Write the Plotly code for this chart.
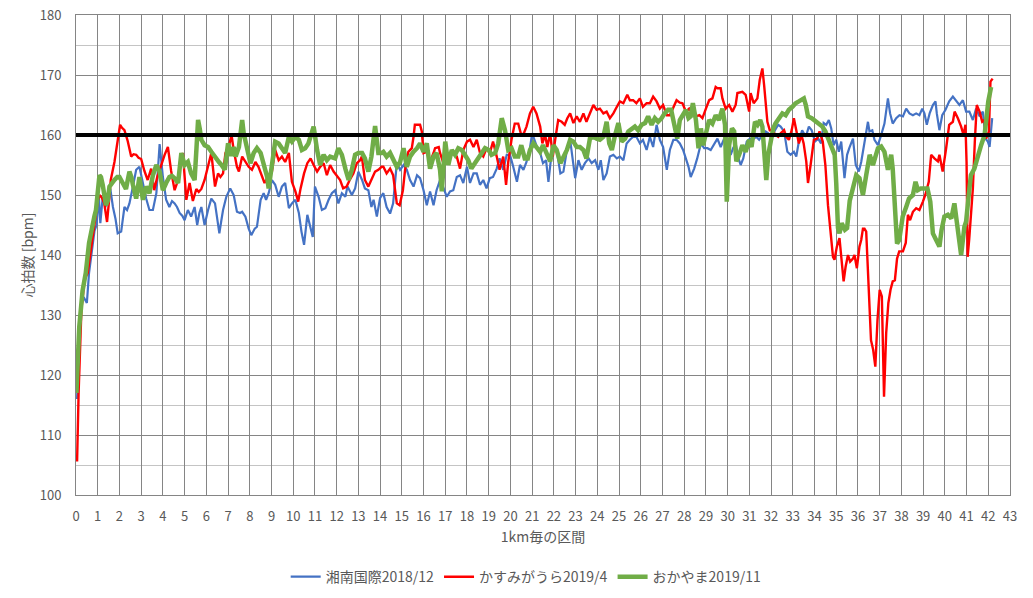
import plotly.graph_objects as go

# (km, bpm)
shonan = [
    (0.05, 116), (0.2, 131), (0.35, 133), (0.5, 132), (0.6, 137), (0.7, 139.7), (0.85, 144), (0.95, 145),
    (1.05, 150), (1.12, 145.3), (1.23, 149.7), (1.35, 148), (1.46, 149), (1.58, 151), (1.7, 148), (1.82, 146),
    (1.92, 143.6), (2.08, 143.9), (2.15, 146), (2.23, 148), (2.35, 147.5), (2.46, 148.6), (2.62, 151.4),
    (2.77, 154.2), (2.92, 154.7), (3.08, 152), (3.23, 149.4), (3.38, 147.5), (3.54, 147.5), (3.7, 150.3),
    (3.85, 158.5), (4.0, 153), (4.15, 149.2), (4.3, 148), (4.42, 149), (4.54, 148.6), (4.65, 148), (4.77, 147),
    (4.9, 146.5), (5.0, 145.8), (5.15, 147.5), (5.3, 146.4), (5.46, 148), (5.58, 145), (5.68, 147), (5.77, 148),
    (5.92, 145), (6.08, 147.5), (6.23, 149.4), (6.4, 148.6), (6.52, 146), (6.6, 143.6), (6.68, 145.5),
    (6.77, 147.5), (6.92, 149.7), (7.1, 151.1), (7.26, 150), (7.41, 147.2), (7.55, 147), (7.65, 147.2),
    (7.8, 146.4), (7.95, 144.4), (8.07, 143.3), (8.23, 144.4), (8.33, 144.7), (8.5, 149.2), (8.64, 150.3),
    (8.75, 149.2), (8.87, 150.3), (9.02, 152.5), (9.17, 151.7), (9.33, 149.7), (9.48, 151.4), (9.63, 152),
    (9.8, 147.8), (9.94, 148.6), (10.1, 149.2), (10.26, 147), (10.38, 143.9), (10.5, 141.7), (10.65, 146.7),
    (10.8, 144.7), (10.9, 143), (11.0, 151.4), (11.17, 149.7), (11.32, 147.5), (11.48, 147.8), (11.63, 149.2),
    (11.78, 150.3), (11.93, 150.8), (12.08, 148.6), (12.24, 150.3), (12.4, 149.7), (12.5, 151.4), (12.7, 150),
    (12.85, 151.1), (13.0, 153.9), (13.17, 152.5), (13.3, 151.1), (13.46, 150.8), (13.6, 148), (13.7, 149.2),
    (13.85, 146.4), (14.0, 149.5), (14.15, 150.3), (14.3, 148), (14.46, 146.9), (14.6, 148.6), (14.77, 155.3),
    (14.92, 154.2), (15.08, 155), (15.23, 154.2), (15.38, 152.5), (15.54, 151.4), (15.7, 153.3), (15.84, 152.8),
    (16.0, 150.8), (16.15, 148.3), (16.3, 150.6), (16.46, 148.3), (16.6, 150.8), (16.76, 152.5), (16.9, 151.4),
    (17.07, 149.7), (17.22, 150.6), (17.37, 150.8), (17.53, 153), (17.68, 153.3), (17.83, 152), (18.0, 154.7),
    (18.14, 152), (18.3, 153.6), (18.45, 153.6), (18.6, 151.7), (18.75, 152.5), (18.9, 151.1), (19.05, 152.8),
    (19.2, 153), (19.37, 154.4), (19.5, 156.1), (19.67, 154.2), (19.83, 156.7), (19.98, 156.7), (20.13, 154.7),
    (20.3, 152.2), (20.44, 155), (20.6, 154.2), (20.74, 155.5), (20.9, 157.8), (21.0, 160.3), (21.12, 158.9),
    (21.27, 157.5), (21.37, 157), (21.5, 155.3), (21.64, 155.8), (21.75, 152.2), (21.86, 155.8), (21.98, 158.3),
    (22.13, 157.5), (22.3, 153.6), (22.44, 153.9), (22.6, 157.5), (22.75, 159.2), (22.87, 155.8), (22.98, 152.8),
    (23.13, 155.8), (23.28, 154.2), (23.43, 155.3), (23.6, 156.1), (23.74, 155.3), (23.9, 155.8), (24.05, 154.2),
    (24.16, 155.8), (24.28, 152.5), (24.43, 153.6), (24.58, 156.4), (24.74, 156.7), (24.9, 156.1), (25.04, 156.4),
    (25.2, 155.8), (25.35, 158.6), (25.5, 159.2), (25.65, 159.7), (25.8, 159.7), (25.96, 158.6), (26.1, 159.2),
    (26.27, 157.5), (26.42, 159.7), (26.57, 158), (26.73, 161.7), (26.88, 159.2), (27.03, 158), (27.2, 154.2),
    (27.34, 157.5), (27.5, 159.2), (27.65, 159.2), (27.8, 158.6), (27.95, 157.5), (28.1, 155.8), (28.2, 154.7),
    (28.3, 153), (28.46, 154.4), (28.6, 156.1), (28.77, 158.6), (28.92, 157.8), (29.07, 157.8), (29.22, 157.5),
    (29.38, 158.6), (29.53, 159.4), (29.68, 158), (29.84, 159.4), (30.0, 157.8), (30.14, 156.7), (30.25, 157.8),
    (30.37, 158.6), (30.5, 156.1), (30.6, 155), (30.72, 156.1), (30.88, 158.9), (31.03, 159.4), (31.2, 159.4),
    (31.32, 159.7), (31.45, 159.2), (31.6, 160), (31.75, 160.6), (31.87, 160.3), (32.03, 159.4), (32.18, 160.8),
    (32.33, 161.7), (32.44, 161.4), (32.6, 160.6), (32.75, 157.2), (32.9, 156.7), (33.05, 157.2), (33.16, 156.4),
    (33.28, 158.9), (33.43, 160.8), (33.6, 159.7), (33.74, 161.4), (33.87, 160.8), (34.02, 158.9), (34.17, 159.4),
    (34.3, 158.6), (34.42, 162), (34.54, 161.7), (34.66, 162.5), (34.77, 161.1), (34.88, 158.3), (35.0, 159.2),
    (35.12, 157.2), (35.23, 158.9), (35.38, 152.8), (35.5, 156.7), (35.6, 157.8), (35.77, 159.4), (35.9, 155),
    (36.04, 153.9), (36.15, 155.5), (36.3, 158.9), (36.46, 162.2), (36.53, 160.6), (36.66, 160.8), (36.76, 159.2),
    (36.92, 158.3), (37.07, 160), (37.22, 161.9), (37.38, 166.1), (37.48, 163.6), (37.6, 161.9), (37.76, 162.8),
    (37.91, 163.3), (38.07, 163.1), (38.22, 164.4), (38.37, 163.6), (38.53, 163.3), (38.68, 163.6), (38.83, 163.3),
    (38.96, 164.4), (39.06, 163.6), (39.17, 161.7), (39.3, 163.6), (39.45, 165), (39.57, 165.6), (39.63, 163.6),
    (39.75, 160.8), (39.88, 163.3), (40.03, 164.2), (40.2, 165.6), (40.37, 166.4), (40.52, 165.6), (40.67, 165),
    (40.83, 165.8), (40.98, 163.9), (41.13, 163.9), (41.29, 162.5), (41.44, 164.4), (41.6, 163.1), (41.75, 163.9),
    (41.87, 159.4), (41.98, 158.9), (42.06, 158), (42.18, 162.8),
]

kasumigaura = [
    (0.05, 105.6), (0.12, 117), (0.25, 131), (0.4, 136), (0.54, 137), (0.7, 141), (0.85, 145), (1.0, 149),
    (1.08, 150), (1.2, 149.5), (1.3, 148.6), (1.43, 145.5), (1.52, 149), (1.6, 152.5), (1.77, 155.5), (1.92, 159),
    (2.03, 161.7), (2.12, 161.2), (2.23, 160.8), (2.38, 159), (2.54, 156.4), (2.65, 156.8), (2.77, 156.7),
    (2.88, 156.2), (3.0, 156), (3.15, 154), (3.3, 152.5), (3.46, 154.4), (3.6, 150.8), (3.74, 153), (3.92, 155),
    (4.08, 156.7), (4.23, 158), (4.38, 154), (4.54, 150.8), (4.7, 152.5), (4.8, 155), (4.92, 157), (5.08, 149.2),
    (5.23, 152), (5.38, 149), (5.54, 151), (5.65, 150.5), (5.77, 151), (5.92, 152.5), (6.08, 154.7), (6.23, 157),
    (6.4, 151.4), (6.54, 153.6), (6.65, 153), (6.77, 153.6), (6.88, 157), (7.03, 158), (7.16, 160), (7.26, 157.5),
    (7.41, 154.7), (7.5, 153.9), (7.65, 156.4), (7.8, 155.5), (7.95, 154.7), (8.1, 154.2), (8.26, 155.5),
    (8.4, 154.7), (8.56, 153.3), (8.68, 152), (8.84, 153), (9.02, 153.9), (9.17, 157.5), (9.33, 155.8),
    (9.48, 156.4), (9.63, 155.5), (9.8, 157), (9.94, 152.2), (10.1, 150.6), (10.23, 148.9), (10.34, 151.1),
    (10.5, 153.6), (10.65, 155.3), (10.8, 156.1), (10.94, 155), (11.1, 153.9), (11.24, 154.7), (11.4, 155.3),
    (11.55, 153.3), (11.7, 155), (11.86, 153.9), (12.0, 153.3), (12.16, 152.5), (12.3, 151.1), (12.46, 151.4),
    (12.6, 152.5), (12.77, 153.6), (12.93, 155.3), (13.08, 155.8), (13.16, 156.4), (13.3, 152.5), (13.46, 151.4),
    (13.6, 152.5), (13.77, 153.9), (13.92, 154.2), (14.07, 154.7), (14.15, 154.7), (14.3, 153.6), (14.46, 154.4),
    (14.6, 153.3), (14.77, 148.6), (14.9, 148.3), (15.05, 150.8), (15.15, 154.2), (15.3, 157.2), (15.46, 157.8),
    (15.54, 159.7), (15.6, 161.7), (15.75, 161.7), (15.84, 161.7), (15.92, 160.6), (16.0, 157), (16.15, 157.2),
    (16.3, 155.5), (16.46, 157), (16.53, 157.8), (16.7, 158), (16.76, 157), (16.9, 155.5), (17.07, 157),
    (17.22, 156.4), (17.37, 157.2), (17.53, 156.4), (17.68, 154.4), (17.83, 157.5), (18.0, 158.9), (18.14, 159.2),
    (18.3, 158), (18.45, 159.2), (18.6, 157), (18.75, 156.4), (18.9, 157.8), (19.05, 157), (19.2, 158.9),
    (19.37, 156.4), (19.5, 154.2), (19.67, 156.4), (19.8, 151.7), (19.9, 155.5), (20.05, 159.2), (20.2, 161.9),
    (20.36, 161.9), (20.5, 160), (20.62, 160.3), (20.74, 161.4), (20.9, 163.6), (21.05, 164.7), (21.2, 163.6),
    (21.37, 161.4), (21.47, 158.6), (21.6, 160), (21.7, 158), (21.83, 160.3), (21.95, 156.4), (22.06, 159.2),
    (22.2, 162.5), (22.36, 162.2), (22.5, 161.7), (22.62, 162.8), (22.75, 163.6), (22.9, 162), (23.05, 163.1),
    (23.2, 162.2), (23.36, 163.6), (23.5, 162.2), (23.66, 163.6), (23.82, 165), (23.97, 164.2), (24.12, 164.4),
    (24.28, 163.6), (24.43, 163.9), (24.58, 162.8), (24.74, 163.6), (24.9, 164.7), (25.04, 165.6), (25.2, 165.3),
    (25.38, 166.7), (25.5, 165.8), (25.65, 165.8), (25.8, 165.3), (25.96, 166.1), (26.1, 164.7), (26.27, 165.3),
    (26.42, 165.3), (26.57, 166.4), (26.73, 165.6), (26.88, 164.4), (27.03, 165), (27.2, 163.3), (27.34, 163.3),
    (27.5, 164.7), (27.65, 165.8), (27.8, 165.4), (27.92, 165.3), (28.08, 163.9), (28.23, 164.4), (28.38, 163.6),
    (28.54, 163.1), (28.7, 163.3), (28.84, 162.8), (29.0, 164.4), (29.15, 165.8), (29.3, 166.1), (29.45, 168),
    (29.53, 167.8), (29.68, 167.8), (29.76, 166.1), (29.91, 164.4), (30.07, 165), (30.22, 163.9), (30.37, 165),
    (30.45, 167), (30.68, 167.2), (30.83, 166.7), (30.99, 163.9), (31.06, 167), (31.2, 165.3), (31.37, 166.1),
    (31.48, 169.2), (31.6, 171.1), (31.68, 168.3), (31.75, 165), (31.83, 162.2), (31.94, 160.8), (32.06, 160.8),
    (32.2, 160), (32.33, 159.7), (32.44, 160.3), (32.6, 160.8), (32.7, 159.7), (32.82, 159.2), (32.95, 160.8),
    (33.05, 162.8), (33.16, 160.8), (33.28, 158.6), (33.4, 160), (33.5, 158.6), (33.62, 155.6), (33.7, 152),
    (33.82, 155), (33.97, 159.2), (34.12, 159.4), (34.23, 160.6), (34.38, 158.9), (34.5, 155), (34.62, 148.3),
    (34.7, 145.5), (34.77, 143.6), (34.85, 139.7), (34.92, 139.2), (35.03, 141.4), (35.15, 142.8), (35.34, 135.6),
    (35.43, 138), (35.54, 140), (35.64, 138.9), (35.77, 139.4), (35.84, 140), (35.95, 137.8), (36.07, 141.4),
    (36.15, 142.5), (36.23, 144.4), (36.3, 144.4), (36.38, 143.9), (36.5, 135.3), (36.6, 125.8), (36.7, 124.2),
    (36.8, 121.4), (36.9, 129.2), (37.0, 134.2), (37.1, 133.1), (37.2, 116.4), (37.3, 127), (37.4, 132),
    (37.5, 134.2), (37.6, 135.6), (37.7, 135.8), (37.8, 139.4), (37.9, 140.6), (38.07, 140.6), (38.2, 142),
    (38.3, 146.7), (38.4, 145.8), (38.53, 147.2), (38.68, 147.8), (38.83, 147.5), (38.99, 148.9), (39.1, 150),
    (39.26, 152.2), (39.37, 156.7), (39.52, 156.1), (39.68, 155.6), (39.75, 156.7), (39.9, 153.9), (40.06, 157.8),
    (40.2, 161.7), (40.37, 162.2), (40.45, 163.9), (40.6, 162.8), (40.75, 161.4), (40.86, 160), (40.95, 161.7),
    (41.0, 155.5), (41.05, 139.7), (41.12, 142.5), (41.2, 147), (41.29, 151.1), (41.38, 158.9), (41.47, 165),
    (41.6, 163.9), (41.72, 162.2), (41.83, 162.5), (41.9, 159.4), (42.03, 160.6), (42.1, 168.9), (42.2, 169.4),
]

okayama = [
    (0.02, 117), (0.15, 128), (0.3, 134), (0.45, 137), (0.6, 142), (0.7, 144.2), (0.85, 146.5), (0.92, 147.5),
    (1.0, 151), (1.08, 153.3), (1.15, 153), (1.23, 151.7), (1.38, 148.3), (1.46, 149), (1.54, 151.4), (1.65, 152),
    (1.77, 152.5), (1.9, 153), (2.0, 153), (2.15, 152), (2.3, 151), (2.46, 153.9), (2.55, 153), (2.62, 151.7),
    (2.77, 149.4), (2.92, 153), (3.08, 149.2), (3.23, 151.4), (3.38, 150.3), (3.54, 153.3), (3.7, 155),
    (3.85, 153.9), (4.0, 150.8), (4.15, 152), (4.3, 153), (4.42, 153.2), (4.54, 152.8), (4.7, 152), (4.85, 157),
    (5.0, 155), (5.15, 155.5), (5.3, 153.6), (5.46, 152.5), (5.55, 158), (5.62, 162.5), (5.7, 161), (5.77, 159.2),
    (5.92, 158.3), (6.08, 158), (6.23, 157.2), (6.35, 156.5), (6.46, 156.1), (6.58, 155.5), (6.7, 155),
    (6.85, 154.2), (7.0, 158.6), (7.15, 156.5), (7.26, 158), (7.35, 156.4), (7.5, 158), (7.65, 162.5),
    (7.72, 160.3), (7.87, 158), (8.03, 155.3), (8.18, 157), (8.33, 157.8), (8.5, 157), (8.64, 155.3), (8.8, 153),
    (8.87, 151.1), (9.02, 155.8), (9.17, 158.9), (9.33, 158.6), (9.48, 157.8), (9.63, 157), (9.8, 159.7),
    (9.94, 158.9), (10.1, 159.7), (10.26, 159.2), (10.4, 157.5), (10.55, 157.8), (10.7, 158.6), (10.94, 161.4),
    (11.1, 157.5), (11.24, 155), (11.4, 156.7), (11.55, 155.8), (11.7, 156.4), (11.93, 156.1), (12.08, 157.8),
    (12.24, 156.7), (12.4, 154.4), (12.55, 152.5), (12.7, 154.2), (12.85, 156.7), (13.0, 157), (13.17, 157),
    (13.3, 156.1), (13.46, 153.9), (13.6, 156.4), (13.77, 161.5), (13.92, 157), (14.07, 157), (14.15, 157.2),
    (14.3, 156.4), (14.46, 157), (14.6, 155.8), (14.77, 154.7), (14.92, 155.5), (15.08, 157.8), (15.23, 154.7),
    (15.38, 156.4), (15.54, 157.2), (15.7, 157.8), (15.84, 158.6), (16.0, 157.2), (16.15, 158.6), (16.3, 154.4),
    (16.46, 156.4), (16.6, 157), (16.76, 154.2), (16.84, 150.6), (17.0, 158.9), (17.14, 155), (17.3, 157.5),
    (17.45, 156.7), (17.6, 157.8), (17.76, 157.5), (17.9, 156.7), (18.06, 155.8), (18.2, 154.4), (18.37, 155.3),
    (18.52, 156.4), (18.67, 157), (18.83, 157.8), (19.0, 157.5), (19.13, 156.7), (19.3, 157), (19.44, 158.6),
    (19.6, 162.8), (19.75, 160.8), (19.9, 157.5), (20.05, 157.8), (20.2, 156.4), (20.36, 156.4), (20.5, 158.3),
    (20.66, 156.1), (20.8, 156.1), (20.9, 157.5), (21.06, 158.6), (21.2, 158), (21.37, 157.2), (21.5, 158.3),
    (21.67, 157), (21.83, 155.6), (21.98, 158.3), (22.13, 157.5), (22.3, 155.3), (22.44, 156.4), (22.6, 157.5),
    (22.75, 159.2), (22.9, 158.9), (23.05, 158), (23.2, 158), (23.36, 157.5), (23.5, 156.1), (23.66, 159.4),
    (23.82, 159.7), (23.97, 159.4), (24.12, 159.2), (24.28, 159.7), (24.43, 162.2), (24.55, 158.6), (24.67, 157.5),
    (24.8, 159.7), (24.97, 162), (25.12, 158.9), (25.28, 159.4), (25.43, 160.6), (25.58, 161.1), (25.73, 161.4),
    (25.88, 160.8), (26.04, 161.7), (26.2, 162), (26.34, 163.1), (26.5, 161.7), (26.65, 162.8), (26.8, 162.2),
    (26.96, 162.8), (27.1, 163.6), (27.26, 164.2), (27.4, 164.2), (27.57, 161.4), (27.68, 159.4), (27.8, 162.5),
    (27.95, 163.6), (28.08, 164.2), (28.2, 162.8), (28.3, 163.1), (28.4, 165.3), (28.54, 162.5), (28.66, 157.8),
    (28.77, 161.1), (28.87, 158.3), (29.0, 160.6), (29.15, 162.5), (29.3, 161.9), (29.45, 163.3), (29.6, 162.5),
    (29.76, 164.4), (29.88, 161.7), (29.96, 148.9), (30.07, 158.3), (30.2, 161.1), (30.3, 160.6), (30.4, 155.6),
    (30.53, 156.7), (30.68, 158.3), (30.83, 157.2), (30.99, 159.2), (31.1, 158), (31.26, 162.2), (31.38, 161.7),
    (31.5, 162.5), (31.6, 161.4), (31.68, 157.2), (31.78, 152.5), (31.87, 156.7), (31.98, 159.4), (32.1, 161.1),
    (32.2, 161.9), (32.36, 162.8), (32.52, 163.6), (32.67, 163.3), (32.82, 164.2), (32.98, 164.7), (33.13, 165.3),
    (33.28, 165.6), (33.51, 166.1), (33.6, 165), (33.7, 163.1), (33.87, 162.8), (34.05, 162.2), (34.2, 161.7),
    (34.36, 161.4), (34.5, 160.6), (34.66, 159.2), (34.8, 158.3), (34.93, 156.7), (35.0, 152), (35.08, 144.5),
    (35.15, 143.6), (35.25, 145.3), (35.4, 144.2), (35.5, 144.5), (35.62, 149), (35.77, 151.1), (35.92, 153.3),
    (36.07, 152.8), (36.23, 150), (36.38, 153.3), (36.54, 156.7), (36.69, 155), (36.84, 157.2), (36.92, 157.8),
    (37.07, 158.1), (37.22, 157.2), (37.38, 154.2), (37.53, 156.7), (37.6, 154.4), (37.7, 148), (37.8, 141.9),
    (37.9, 142.5), (38.06, 146.4), (38.22, 148), (38.35, 149.4), (38.53, 150), (38.65, 152.2), (38.76, 150.8),
    (38.9, 151.1), (39.06, 151.1), (39.2, 151.1), (39.33, 148.9), (39.45, 143.6), (39.6, 142.5), (39.75, 141.4),
    (39.85, 144.2), (39.98, 146.4), (40.14, 146.7), (40.3, 146.1), (40.44, 148.6), (40.55, 145.5), (40.65, 142),
    (40.75, 140), (40.9, 144.7), (40.98, 145.6), (41.1, 150), (41.2, 153.3), (41.36, 154.4), (41.52, 156.7),
    (41.67, 158.3), (41.83, 160), (41.9, 163.3), (42.0, 165.6), (42.13, 168),
]

target_hr = 160
x_ticks = list(range(0, 44))

font_jp = "Noto Sans CJK JP"
text_col = "#595959"
grid_dark = "#858585"
grid_light = "#c4c4c4"

fig = go.Figure()

series = [
    ("湘南国際2018/12", shonan, "#4472C4", 2.2),
    ("かすみがうら2019/4", kasumigaura, "#FF0000", 2.4),
    ("おかやま2019/11", okayama, "#70AD47", 4.5),
]
for name, pts, color, width in series:
    fig.add_trace(go.Scatter(
        x=[p[0] for p in pts],
        y=[p[1] for p in pts],
        mode="lines",
        name=name,
        line=dict(color=color, width=width),
    ))

# target heart rate line
fig.add_shape(type="line", xref="x", yref="y", x0=0, x1=43, y0=target_hr, y1=target_hr,
              line=dict(color="black", width=4), layer="above")

fig.update_layout(
    width=1033, height=598,
    margin=dict(l=76, r=23, t=15, b=103, autoexpand=False),
    paper_bgcolor="white", plot_bgcolor="white",
    font=dict(family=font_jp, size=13, color=text_col),
    showlegend=True,
    legend=dict(orientation="h", x=0.482, xanchor="center", y=-0.171, yanchor="middle",
                font=dict(family=font_jp, size=14, color=text_col), itemwidth=30),
    xaxis=dict(
        range=[0, 43], tickmode="array", tickvals=x_ticks, ticktext=[str(t) for t in x_ticks],
        showgrid=True, gridcolor=grid_dark, gridwidth=1, zeroline=False, automargin=False,
        showline=True, linecolor=grid_dark, mirror=True, ticks="", ticklabelstandoff=9,
        ticklabeloverflow="allow",
        title=dict(text="1km毎の区間", font=dict(family=font_jp, size=14, color=text_col), standoff=8),
        tickfont=dict(size=13, color=text_col),
    ),
    yaxis=dict(
        range=[100, 180], dtick=10, showgrid=True, gridcolor=grid_dark, gridwidth=1, zeroline=False,
        automargin=False, showline=True, linecolor=grid_dark, mirror=True, ticks="", ticklabelstandoff=11,
        ticklabeloverflow="allow",
        minor=dict(dtick=5, showgrid=True, gridcolor=grid_light, gridwidth=1),
        title=dict(text="心拍数 [bpm]", font=dict(family=font_jp, size=14, color=text_col), standoff=2),
        tickfont=dict(size=13, color=text_col),
    ),
)

# drop the default page margin so the figure sits at the window's top-left corner
fig.write_html("out.html", config={"displayModeBar": False},
               post_script="document.body.style.margin = '0';")
